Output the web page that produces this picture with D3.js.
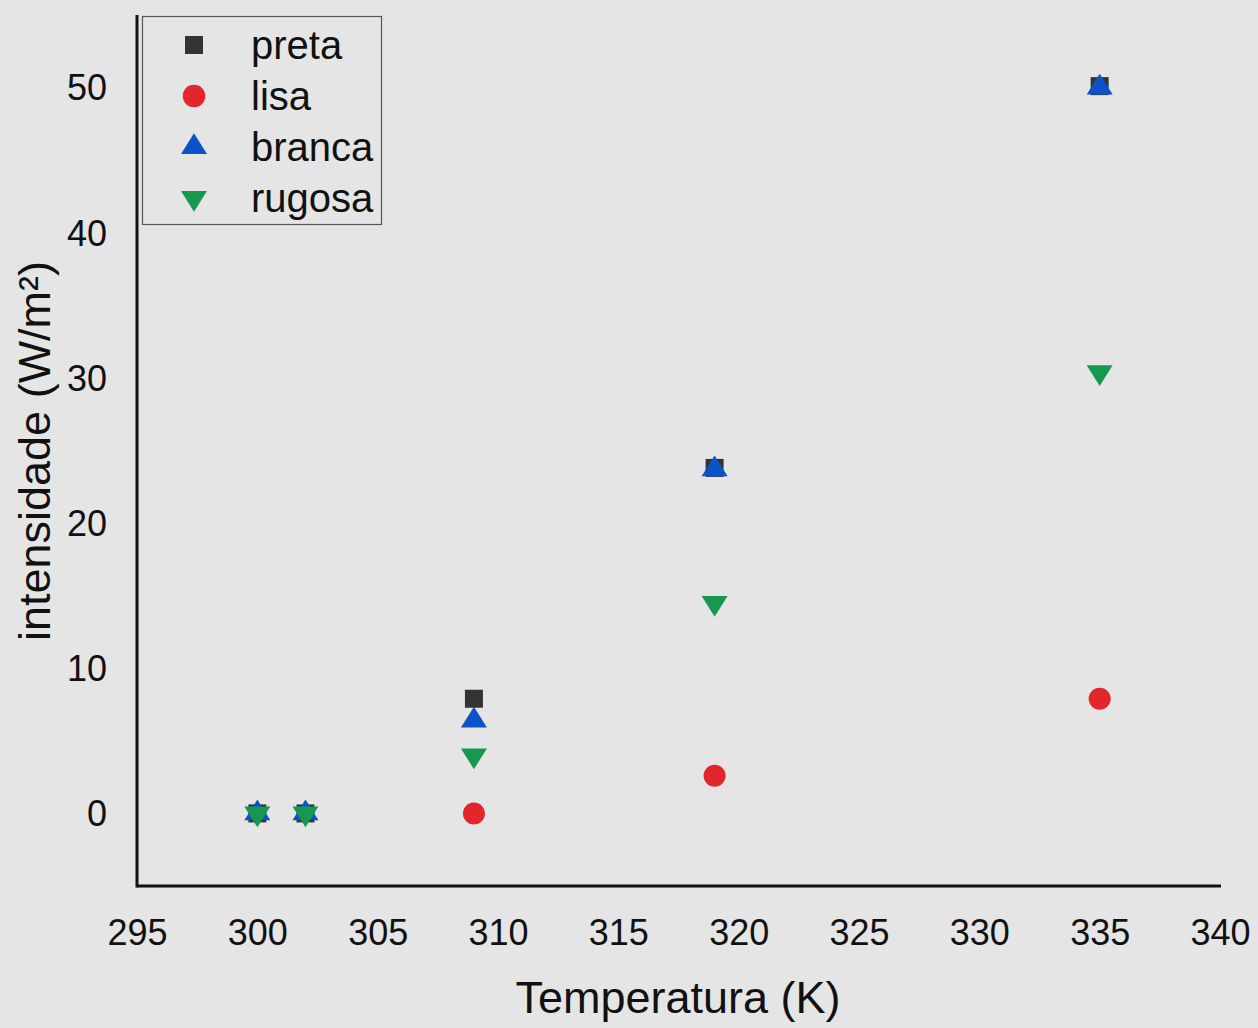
<!DOCTYPE html>
<html>
<head>
<meta charset="utf-8">
<script src="https://cdn.jsdelivr.net/npm/d3@7"></script>
<style>
  html, body { margin: 0; padding: 0; background: #e5e5e5; }
  svg { display: block; font-family: "Liberation Sans", Arial, sans-serif; }
</style>
</head>
<body>
<div id="chart"></div>
<script>
// data
const temperatures = [300, 302, 309, 319, 335];
const preta  = [0, 0, 7.9, 23.8, 50.1];
const lisa   = [null, null, 0, 2.6, 7.9];
const branca = [0, 0, 6.4, 23.7, 50.0];
const rugosa = [0, 0, 4.0, 14.5, 30.4];
const seriesNames = ["preta", "lisa", "branca", "rugosa"];
const xTicks = [295, 300, 305, 310, 315, 320, 325, 330, 335, 340];
const yTicks = [0, 10, 20, 30, 40, 50];

const width = 1258, height = 1028;
const plotLeft = 137, plotRight = 1220, plotTop = 15, plotBottom = 886;

// triangles centred on their centroid
const triUp = {
  draw(ctx, size) {
    const w = Math.sqrt(size), h = w * 0.8;
    ctx.moveTo(0, -2 * h / 3); ctx.lineTo(w / 2, h / 3); ctx.lineTo(-w / 2, h / 3); ctx.closePath();
  }
};
const triDown = {
  draw(ctx, size) {
    const w = Math.sqrt(size), h = w * 0.8;
    ctx.moveTo(0, 2 * h / 3); ctx.lineTo(w / 2, -h / 3); ctx.lineTo(-w / 2, -h / 3); ctx.closePath();
  }
};

const styles = {
  preta:  { color: "#333333", type: d3.symbolSquare, size: 18 * 18 },
  lisa:   { color: "#e3262b", type: d3.symbolCircle, size: Math.PI * 11 * 11 },
  branca: { color: "#0b53c9", type: triUp, size: 26 * 26 },
  rugosa: { color: "#16994f", type: triDown, size: 26 * 26 }
};
const values = { preta, lisa, branca, rugosa };

const svg = d3.select("#chart").append("svg")
  .attr("width", width)
  .attr("height", height);

svg.append("rect").attr("width", width).attr("height", height).attr("fill", "#e5e5e5");

const x = d3.scaleLinear().domain([295, 340]).range([plotLeft, plotRight]);
const y = d3.scaleLinear().domain([-5, 55]).range([plotBottom, plotTop]);

// axes without tick marks
const xAxis = svg.append("g")
  .attr("transform", "translate(0," + plotBottom + ")")
  .call(d3.axisBottom(x).tickValues(xTicks).tickSize(0).tickPadding(33));
const yAxis = svg.append("g")
  .attr("transform", "translate(" + plotLeft + ",0)")
  .call(d3.axisLeft(y).tickValues(yTicks).tickSize(0).tickPadding(30));

[xAxis, yAxis].forEach(g => {
  g.select(".domain").attr("stroke", "#111").attr("stroke-width", 3);
  g.selectAll("text").attr("font-size", 36).attr("fill", "#111").attr("font-family", "Liberation Sans, Arial, sans-serif");
});
yAxis.selectAll("text").attr("dy", "0.34em");
xAxis.select(".domain").attr("d", "M" + plotLeft + ",0H" + (plotRight + 1));
yAxis.select(".domain").attr("d", "M0," + plotTop + "V" + (plotBottom + 1.5));

// points
seriesNames.forEach(name => {
  const st = styles[name];
  const pts = temperatures.map((t, i) => ({ t, v: values[name][i] })).filter(d => d.v !== null);
  svg.append("g").selectAll("path")
    .data(pts)
    .enter().append("path")
      .attr("d", d3.symbol().type(st.type).size(st.size))
      .attr("transform", d => "translate(" + x(d.t) + "," + y(d.v) + ")")
      .attr("fill", st.color);
});

// axis titles
svg.append("text")
  .attr("x", 678)
  .attr("y", 1013)
  .attr("text-anchor", "middle")
  .attr("font-size", 45)
  .attr("fill", "#111")
  .text("Temperatura (K)");

svg.append("text")
  .attr("transform", "translate(50," + 451 + ") rotate(-90)")
  .attr("text-anchor", "middle")
  .attr("font-size", 45)
  .attr("fill", "#111")
  .text("intensidade (W/m²)");

// legend
const legend = svg.append("g");
legend.append("rect")
  .attr("x", 142.5).attr("y", 16.5)
  .attr("width", 239).attr("height", 208)
  .attr("fill", "none")
  .attr("stroke", "#555")
  .attr("stroke-width", 1.2);

seriesNames.forEach((name, i) => {
  const st = styles[name];
  const cy = 45 + i * 51;
  const scale = name === "lisa" ? 1.05 : 1;
  legend.append("path")
    .attr("d", d3.symbol().type(st.type).size(st.size * scale))
    .attr("transform", "translate(194," + cy + ")")
    .attr("fill", st.color);
  legend.append("text")
    .attr("x", 251)
    .attr("y", cy + 14)
    .attr("font-size", 40)
    .attr("fill", "#111")
    .text(name);
});
</script>
</body>
</html>
